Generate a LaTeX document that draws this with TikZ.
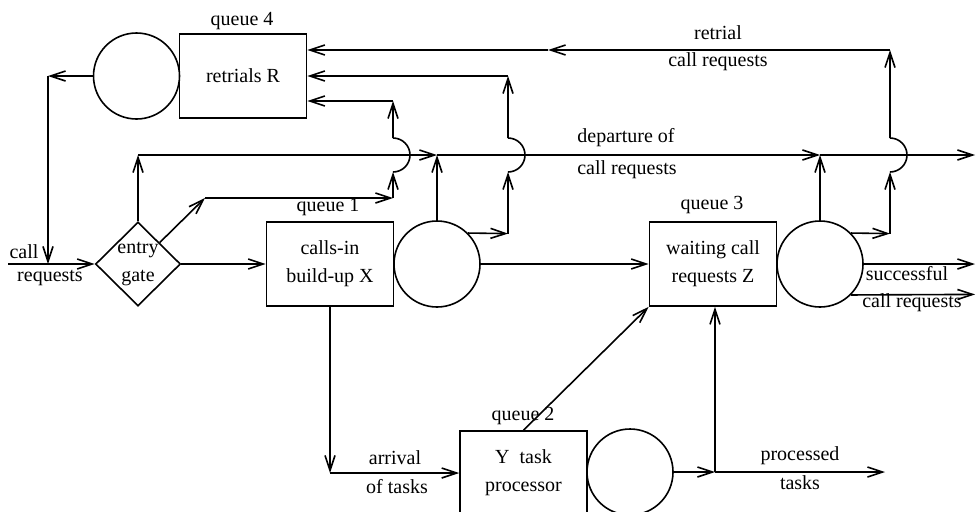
\documentclass[tikz,border=0pt]{standalone}
\usepackage{fontspec}
\setmainfont{Liberation Serif}
\usetikzlibrary{arrows.meta,shapes.geometric}
\tikzset{
  box/.style={draw, minimum width=63.5pt, minimum height=42pt, inner sep=0pt, align=center, font=\fontsize{10}{14}\selectfont},
  server/.style={draw, circle, minimum size=43pt, inner sep=0pt},
  gate/.style={draw, diamond, minimum width=42.5pt, minimum height=42pt, inner sep=0pt},
  lbl/.style={inner sep=0pt, align=center, font=\fontsize{10}{14}\selectfont},
}
\begin{document}
\begin{tikzpicture}[x=0.5pt, y=0.5pt, line width=0.8pt, >={Straight Barb[length=7.5pt,width=5pt]}]
  \useasboundingbox (0,0) rectangle (977,511);
  \node[box] (r4) at (243,435) {retrials R};
  \node[server] (c4) at (136.5,435) {};
  \node[gate] (gate) at (138,247) {};
  \node[lbl] (gatetxt) at (gate) {entry\\gate};
  \node[box] (x1) at (330,247) {calls-in\\build-up X};
  \node[server] (c1) at (437,247) {};
  \node[box] (z3) at (713,247) {waiting call\\requests Z};
  \node[server] (c3) at (820,247) {};
  \node[box] (y2) at (523.5,38) {Y~~task\\processor};
  \node[server] (c2) at (630,39) {};

  \node (lq4) at (242,490) {queue 4};
  \node (lq1) at (328,304) {queue 1};
  \node (lq3) at (712,306) {queue 3};
  \node (lq2) at (523,95) {queue 2};

  \coordinate (in) at (8,247);
  \coordinate (k4) at (48,435);
  \coordinate (m4) at (48,247);
  \coordinate (d0) at (138,356);
  \coordinate (d1) at (437,356);
  \coordinate (d3) at (820,356);
  \coordinate (dout) at (975,356);
  \coordinate (q1a) at (205,313);
  \coordinate (q1b) at (393,313);
  \coordinate (q1c) at (393,339);
  \coordinate (q1d) at (393,373);
  \coordinate (q1e) at (393,410);
  \coordinate (b1a) at (508,277.4);
  \coordinate (b1c) at (508,339);
  \coordinate (b1d) at (508,373);
  \coordinate (b1e) at (508,435);
  \coordinate (b3a) at (890,277.4);
  \coordinate (b3c) at (890,339);
  \coordinate (b3d) at (890,373);
  \coordinate (b3e) at (890,461);
  \coordinate (rt) at (548,461);
  \coordinate (sa) at (975,247);
  \coordinate (sb) at (975,216.6);
  \coordinate (t1) at (330,38);
  \coordinate (p2) at (715,39);
  \coordinate (pout) at (885,39);

  \draw[->] (in) -- (gate.west);
  \draw[->] (c4.west) -- (k4);
  \draw[->] (k4) -- (m4);
  \node (lcall) at (24,259) {call};
  \node (lreq) at (50,233) {requests};

  \draw[->] (gate.north) -- (d0);
  \draw[->] (d0) -- (d1);
  \draw[->] (d1) -- (d3);
  \draw[->] (d3) -- (dout);
  \node (ldep) at (626,373) {departure of};
  \node (ldepb) at (627,341) {call requests};

  \draw[->] (gate.north east) -- (q1a);
  \draw[->] (q1a) -- (q1b);
  \draw[->] (q1b) -- (q1c);
  \draw (q1c) arc[start angle=-90, end angle=90, radius=17];
  \draw[->] (q1d) -- (q1e);
  \draw[->] (q1e) -- (r4.east |- q1e);

  \draw[->] (gate.east) -- (x1.west);
  \draw[->] (c1.north) -- (d1);
  \draw[->] (c1.45) -- (b1a);
  \draw[->] (b1a) -- (b1c);
  \draw (b1c) arc[start angle=-90, end angle=90, radius=17];
  \draw[->] (b1d) -- (b1e);
  \draw[->] (b1e) -- (r4.east |- b1e);
  \draw[->] (c1.east) -- (z3.west);

  \draw[->] (c3.north) -- (d3);
  \draw[->] (c3.45) -- (b3a);
  \draw[->] (b3a) -- (b3c);
  \draw (b3c) arc[start angle=-90, end angle=90, radius=17];
  \draw[->] (b3d) -- (b3e);
  \draw[->] (b3e) -- (rt);
  \draw[->] (rt) -- (r4.east |- rt);
  \node (lret) at (718,478) {retrial};
  \node (lretb) at (718,449) {call requests};

  \draw[->] (c3.east) -- (sa);
  \draw[->] (c3.-45) -- (sb);
  \node (lsuc) at (907,237) {successful};
  \node (lsucb) at (912,208) {call requests};

  \draw[->] (x1.south) -- (t1);
  \draw[->] (t1) -- (y2.west);
  \node (larr) at (395,53) {arrival};
  \node (larrb) at (397,24) {of tasks};

  \draw[->] (y2.north) -- (z3.south west);
  \draw[->] (c2.east) -- (p2);
  \draw[->] (p2) -- (pout);
  \draw[->] (p2) -- (p2 |- z3.south);
  \node (lproc) at (800,55) {processed};
  \node (lprocb) at (800,28) {tasks};
\end{tikzpicture}
\end{document}
